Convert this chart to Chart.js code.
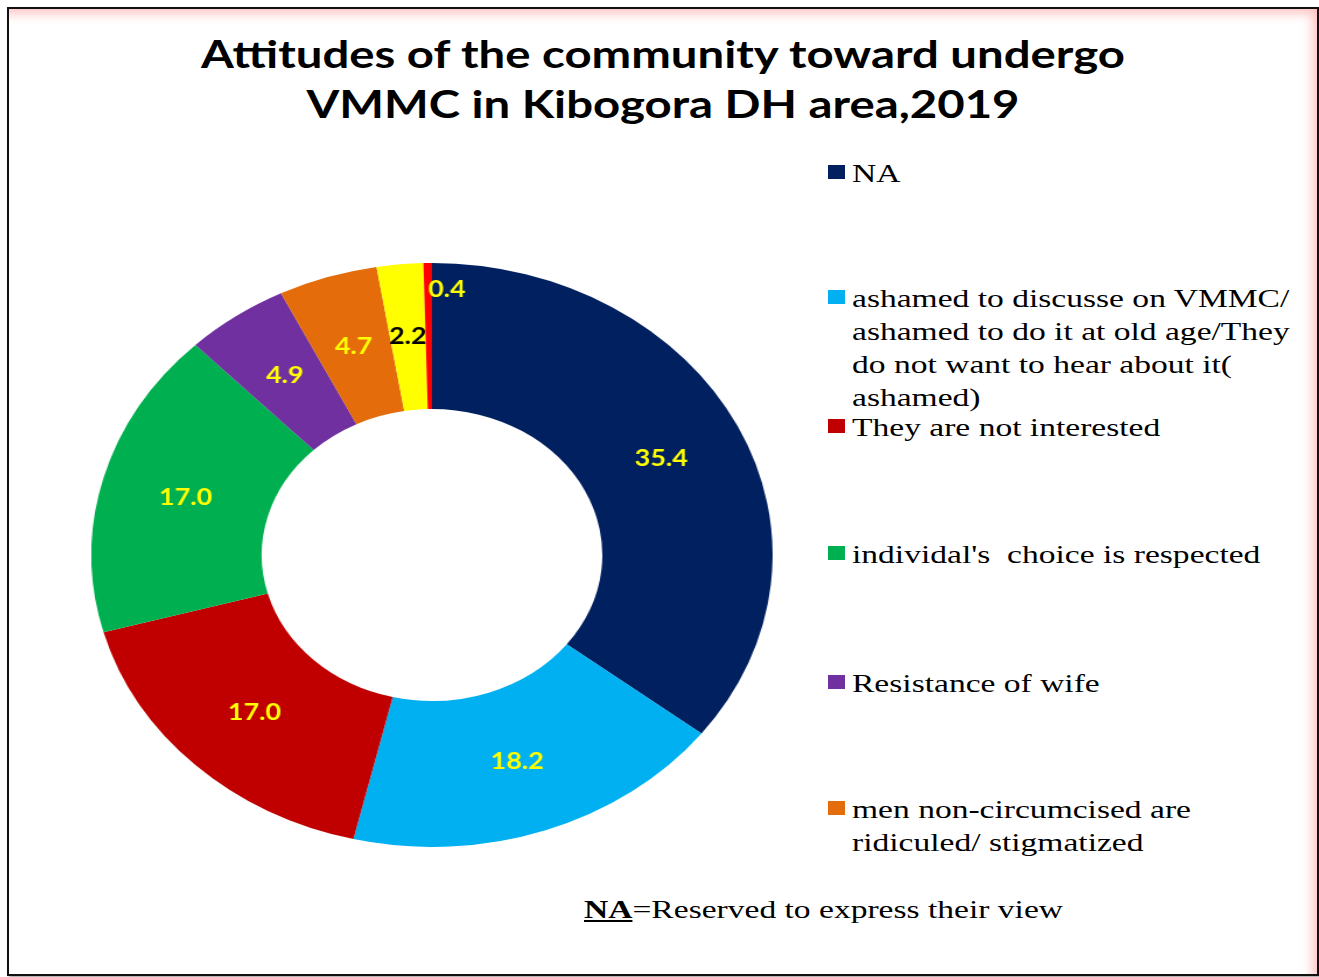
<!DOCTYPE html>
<html lang="en">
<head>
    <meta charset="UTF-8">
    <title>Attitudes toward VMMC</title>
    <script src="https://cdn.jsdelivr.net/npm/chart.js"></script>
    <style>
        body {
            margin: 0;
            padding: 0;
            background: #fff;
            width: 1319px;
            height: 977px;
            overflow: hidden;
            position: relative;
        }
        #frame {
            position: absolute;
            left: 7px;
            top: 7px;
            width: 1308px;
            height: 965px;
            border: 2px solid #111;
            box-shadow: inset -10px 10px 12px -6px rgba(255, 110, 110, 0.45), 2px 2px 3px rgba(0, 0, 0, 0.35);
        }
        .title {
            position: absolute;
            left: 0;
            width: 1326px;
            text-align: center;
            font-family: Lato, "Open Sans", sans-serif;
            font-weight: bold;
            font-size: 38px;
            line-height: 50px;
            color: #000;
            transform: scaleX(1.245);
            transform-origin: 663px 0;
        }
        #chartBox {
            position: absolute;
            left: 140px;
            top: 263px;
            width: 584px;
            height: 584px;
            transform: scaleX(1.1664);
            transform-origin: center;
        }
        .leg {
            position: absolute;
            left: 828px;
        }
        .leg .sw {
            position: absolute;
            left: 0;
            width: 17px;
            height: 14px;
        }
        .leg .tx {
            position: absolute;
            left: 24px;
            white-space: pre;
            font-family: "Liberation Serif", "Times New Roman", serif;
            font-size: 26px;
            line-height: 33px;
            color: #000;
            transform: scaleX(1.29);
            transform-origin: 0 0;
        }
        #note {
            position: absolute;
            left: 584px;
            top: 893px;
            white-space: nowrap;
            font-family: "Liberation Serif", "Times New Roman", serif;
            font-size: 26px;
            line-height: 33px;
            transform: scaleX(1.29);
            transform-origin: 0 0;
        }
    </style>
</head>
<body>
    <div id="frame"></div>
    <div class="title" style="top: 28px;">Attitudes of the community toward undergo</div>
    <div class="title" style="top: 78px;">VMMC in Kibogora DH area,2019</div>

    <div id="chartBox"><canvas id="donut" width="584" height="584"></canvas></div>
    <div id="legend"></div>
    <div id="note"><b><u>NA</u></b>=Reserved to express their view</div>

    <script>
        // donnees (%)
        const labels = [
            ['NA'],
            ['ashamed to discusse on VMMC/', 'ashamed to do it at old age/They', 'do not want to hear about it(', 'ashamed)'],
            ['They are not interested'],
            ["individal's  choice is respected"],
            ['Resistance of wife'],
            ['men non-circumcised are', 'ridiculed/ stigmatized'],
            ['Other'],
            ['Other (2)']
        ];
        const values = [35.4, 18.2, 17.0, 17.0, 4.9, 4.7, 2.2, 0.4];
        const colors = ['#002060', '#00B0F0', '#C00000', '#00B050', '#7030A0', '#E46C0A', '#FFFF00', '#FF0000'];
        const labelColors = ['#FFFF00', '#FFFF00', '#FFFF00', '#FFFF00', '#FFFF00', '#FFFF00', '#000000', '#FFFF00'];

        // legende: seulement les 6 premieres categories
        const legendCount = 6;
        const legendTops = [157, 282, 411, 538, 667, 793];

        let legendHtml = '';
        for (let i = 0; i < legendCount; i++) {
            legendHtml += `
                <div class="leg" style="top:${legendTops[i]}px">
                    <div class="sw" style="top:8px;background:${colors[i]}"></div>
                    <div class="tx">${labels[i].join('<br>')}</div>
                </div>`;
        }
        document.getElementById('legend').innerHTML = legendHtml;

        // etiquettes de valeurs sur les secteurs
        const valueLabels = {
            id: 'valueLabels',
            afterDatasetsDraw(chart) {
                const ctx = chart.ctx;
                const meta = chart.getDatasetMeta(0);
                ctx.save();
                ctx.font = 'bold 23px Lato, "Open Sans", sans-serif';
                ctx.textBaseline = 'middle';
                meta.data.forEach((arc, i) => {
                    const txt = values[i].toFixed(1);
                    const p = arc.getProps(['x', 'y', 'startAngle', 'endAngle', 'innerRadius', 'outerRadius'], true);
                    const mid = (p.startAngle + p.endAngle) / 2;
                    let r = (p.innerRadius + p.outerRadius) / 2;
                    ctx.textAlign = 'center';
                    // secteur trop petit: etiquette pres du bord exterieur
                    if (p.endAngle - p.startAngle < 0.03) {
                        r = p.outerRadius * 0.91;
                        ctx.textAlign = 'left';
                    }
                    ctx.fillStyle = labelColors[i];
                    ctx.fillText(txt, p.x + Math.cos(mid) * r, p.y + Math.sin(mid) * r);
                });
                ctx.restore();
            }
        };

        new Chart(document.getElementById('donut'), {
            type: 'doughnut',
            data: {
                labels: labels,
                datasets: [{
                    data: values,
                    backgroundColor: colors,
                    borderWidth: 0
                }]
            },
            options: {
                responsive: false,
                animation: false,
                cutout: '50%',
                layout: { padding: 0 },
                plugins: {
                    legend: { display: false },
                    tooltip: { enabled: false }
                }
            },
            plugins: [valueLabels]
        });
    </script>
</body>
</html>
